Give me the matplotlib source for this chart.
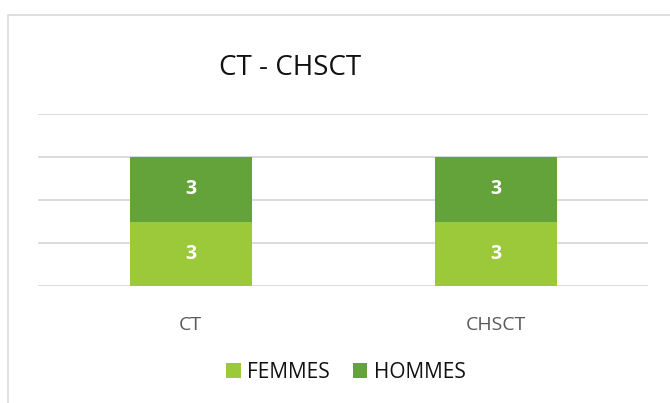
import matplotlib.pyplot as plt
from matplotlib.patches import Rectangle

# Data
categories = ["CT", "CHSCT"]
femmes = [3, 3]
hommes = [3, 3]
series_labels = ["FEMMES", "HOMMES"]
colors = ["#9BC93A", "#63A33A"]

plt.rcParams['font.family'] = ['Open Sans', 'DejaVu Sans']

fig = plt.figure(figsize=(6.7, 4.03), dpi=100)
ax = fig.add_axes([38 / 670, 1 - 286 / 403, 610 / 670, 172 / 403])

# chart frame (light gray, runs off the right and bottom edges)
fig.patches.append(Rectangle((8 / 670, -0.1), 1.0, 1 - 15 / 403 + 0.1,
                             transform=fig.transFigure, fill=False,
                             edgecolor="#D9D9D9", linewidth=1.2))

x = range(len(categories))
b1 = ax.bar(x, femmes, width=0.4, color=colors[0], label=series_labels[0])
b2 = ax.bar(x, hommes, width=0.4, bottom=femmes, color=colors[1], label=series_labels[1])

for bars in (b1, b2):
    for rect in bars:
        ax.text(rect.get_x() + rect.get_width() / 2, rect.get_y() + rect.get_height() / 2,
                f"{rect.get_height():g}", ha="center", va="center",
                color="white", fontsize=14, fontweight="bold")

ax.set_xlim(-0.5, 1.5)
ax.set_ylim(0, 8)
ax.set_yticks([0, 2, 4, 6, 8])
ax.yaxis.grid(True, color="#D9D9D9", linewidth=1.3)
ax.set_axisbelow(True)
ax.tick_params(axis="y", left=False, labelleft=False)
ax.tick_params(axis="x", bottom=False, labelsize=14, labelcolor="#595959", pad=18)
ax.set_xticks(list(x))
ax.set_xticklabels(categories)
for s in ax.spines.values():
    s.set_visible(False)

fig.text(290 / 670, 1 - 68 / 403, "CT - CHSCT", ha="center", va="center",
         fontsize=20, color="#111111")

fig.legend(loc="center", bbox_to_anchor=(346 / 670, 1 - 372 / 403), ncol=2,
           frameon=False, fontsize=15, handlelength=0.7, handleheight=0.7,
           columnspacing=1.1, handletextpad=0.3, labelcolor="#111111")

fig.savefig("out.png", dpi=100)
